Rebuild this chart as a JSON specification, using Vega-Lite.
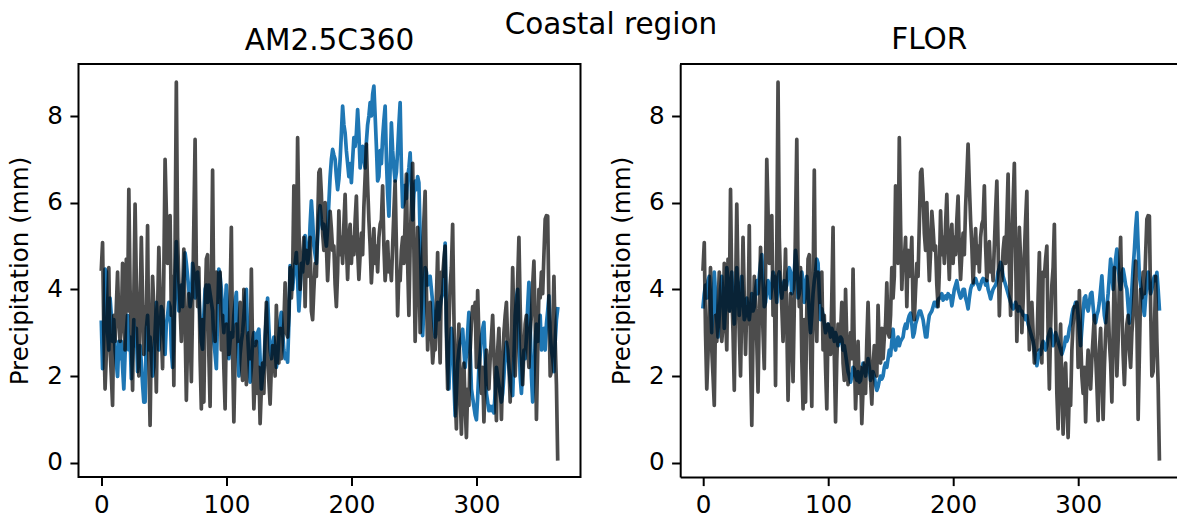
{
"$schema": "https://vega.github.io/schema/vega-lite/v6.json",
"background": "white",
"padding": {"left": 6.5, "top": 10, "right": 0, "bottom": 0},
"title": {"text": "Coastal region", "fontSize": 29.5, "anchor": "middle", "dx": 18.5, "dy": 38.8, "offset": 0, "baseline": "alphabetic"},
"datasets": {"daily": [
{"day":0,"obs":4.47,"am":3.24,"flor":3.6},{"day":1,"obs":5.08,"am":2.17,"flor":3.9},{"day":2,"obs":3.0,"am":3.0,"flor":4.1},{"day":3,"obs":1.7,"am":4.47,"flor":3.8},{"day":4,"obs":2.5,"am":4.4,"flor":4.2},{"day":5,"obs":3.6,"am":3.0,"flor":4.3},{"day":6,"obs":4.5,"am":2.6,"flor":3.7},{"day":7,"obs":2.6,"am":3.8,"flor":3.0},{"day":8,"obs":2.0,"am":3.4,"flor":3.6},{"day":9,"obs":1.32,"am":2.8,"flor":4.4},
{"day":10,"obs":3.4,"am":3.3,"flor":3.9},{"day":11,"obs":2.8,"am":2.6,"flor":3.3},{"day":12,"obs":3.6,"am":2.3,"flor":2.9},{"day":13,"obs":4.4,"am":1.99,"flor":3.4},{"day":14,"obs":3.3,"am":2.8,"flor":4.0},{"day":15,"obs":2.8,"am":2.4,"flor":4.3},{"day":16,"obs":3.2,"am":2.8,"flor":3.8},{"day":17,"obs":4.6,"am":2.2,"flor":3.1},{"day":18,"obs":3.4,"am":1.7,"flor":3.6},{"day":19,"obs":2.6,"am":2.5,"flor":4.5},
{"day":20,"obs":4.7,"am":3.0,"flor":4.2},{"day":21,"obs":3.5,"am":3.4,"flor":3.5},{"day":22,"obs":6.31,"am":2.6,"flor":3.9},{"day":23,"obs":4.0,"am":2.9,"flor":4.4},{"day":24,"obs":3.0,"am":1.94,"flor":3.6},{"day":25,"obs":1.67,"am":2.5,"flor":3.2},{"day":26,"obs":3.8,"am":3.3,"flor":3.8},{"day":27,"obs":5.97,"am":2.7,"flor":4.5},{"day":28,"obs":4.2,"am":3.1,"flor":4.0},{"day":29,"obs":3.0,"am":2.1,"flor":3.4},
{"day":30,"obs":2.0,"am":2.5,"flor":3.9},{"day":31,"obs":3.6,"am":2.7,"flor":4.3},{"day":32,"obs":5.2,"am":2.3,"flor":3.8},{"day":33,"obs":3.8,"am":1.8,"flor":3.3},{"day":34,"obs":2.5,"am":1.4,"flor":3.4},{"day":35,"obs":3.6,"am":1.4,"flor":3.8},{"day":36,"obs":3.2,"am":3.09,"flor":3.5},{"day":37,"obs":5.47,"am":3.4,"flor":3.3},{"day":38,"obs":2.4,"am":2.6,"flor":3.6},{"day":39,"obs":0.86,"am":2.9,"flor":3.9},
{"day":40,"obs":2.9,"am":2.5,"flor":3.5},{"day":41,"obs":4.3,"am":2.0,"flor":3.6},{"day":42,"obs":3.6,"am":2.2,"flor":4.0},{"day":43,"obs":2.8,"am":3.0,"flor":4.2},{"day":44,"obs":1.63,"am":3.7,"flor":3.9},{"day":45,"obs":3.5,"am":3.2,"flor":4.3},{"day":46,"obs":4.97,"am":2.6,"flor":4.6},{"day":47,"obs":3.9,"am":3.0,"flor":4.8},{"day":48,"obs":3.0,"am":3.6,"flor":4.2},{"day":49,"obs":2.17,"am":3.5,"flor":3.6},
{"day":50,"obs":4.4,"am":2.9,"flor":3.7},{"day":51,"obs":7.0,"am":2.5,"flor":4.0},{"day":52,"obs":5.8,"am":3.2,"flor":4.2},{"day":53,"obs":4.6,"am":3.4,"flor":4.0},{"day":54,"obs":5.0,"am":3.7,"flor":3.8},{"day":55,"obs":5.7,"am":3.6,"flor":4.1},{"day":56,"obs":3.4,"am":2.6,"flor":4.4},{"day":57,"obs":4.3,"am":2.2,"flor":4.3},{"day":58,"obs":1.78,"am":3.0,"flor":4.0},{"day":59,"obs":5.0,"am":4.2,"flor":3.7},
{"day":60,"obs":8.78,"am":5.1,"flor":4.3},{"day":61,"obs":5.2,"am":4.2,"flor":4.4},{"day":62,"obs":4.2,"am":3.5,"flor":4.0},{"day":63,"obs":3.6,"am":3.8,"flor":3.8},{"day":64,"obs":2.8,"am":4.1,"flor":4.1},{"day":65,"obs":3.9,"am":3.6,"flor":4.2},{"day":66,"obs":4.93,"am":4.3,"flor":4.0},{"day":67,"obs":3.2,"am":4.84,"flor":4.1},{"day":68,"obs":1.44,"am":4.6,"flor":4.4},{"day":69,"obs":2.8,"am":4.3,"flor":4.5},
{"day":70,"obs":3.9,"am":4.0,"flor":4.4},{"day":71,"obs":3.1,"am":3.6,"flor":3.9},{"day":72,"obs":1.87,"am":3.8,"flor":4.0},{"day":73,"obs":3.6,"am":4.6,"flor":4.4},{"day":74,"obs":5.5,"am":4.4,"flor":4.9},{"day":75,"obs":7.46,"am":3.8,"flor":4.6},{"day":76,"obs":4.5,"am":4.2,"flor":3.8},{"day":77,"obs":3.6,"am":4.4,"flor":3.9},{"day":78,"obs":4.5,"am":3.9,"flor":4.2},{"day":79,"obs":2.4,"am":3.3,"flor":4.4},
{"day":80,"obs":1.24,"am":2.8,"flor":4.2},{"day":81,"obs":3.3,"am":2.62,"flor":3.7},{"day":82,"obs":1.4,"am":3.4,"flor":3.9},{"day":83,"obs":3.5,"am":4.0,"flor":4.3},{"day":84,"obs":4.7,"am":4.1,"flor":4.0},{"day":85,"obs":4.8,"am":3.7,"flor":3.4},{"day":86,"obs":2.5,"am":4.1,"flor":3.0},{"day":87,"obs":1.3,"am":3.9,"flor":3.4},{"day":88,"obs":4.0,"am":3.7,"flor":3.9},{"day":89,"obs":6.75,"am":3.5,"flor":4.2},
{"day":90,"obs":3.5,"am":2.8,"flor":4.4},{"day":91,"obs":2.8,"am":2.5,"flor":4.7},{"day":92,"obs":4.4,"am":2.17,"flor":4.6},{"day":93,"obs":3.7,"am":3.4,"flor":3.9},{"day":94,"obs":4.1,"am":4.47,"flor":3.3},{"day":95,"obs":4.4,"am":4.3,"flor":3.55},{"day":96,"obs":2.6,"am":4.0,"flor":3.4},{"day":97,"obs":3.4,"am":3.4,"flor":3.2},{"day":98,"obs":2.2,"am":3.0,"flor":3.0},{"day":99,"obs":1.24,"am":3.6,"flor":3.1},
{"day":100,"obs":3.2,"am":4.1,"flor":3.2},{"day":101,"obs":2.9,"am":3.5,"flor":3.1},{"day":102,"obs":2.5,"am":2.4,"flor":2.9},{"day":103,"obs":3.8,"am":2.8,"flor":3.1},{"day":104,"obs":5.43,"am":3.0,"flor":3.0},{"day":105,"obs":2.5,"am":2.9,"flor":2.8},{"day":106,"obs":0.94,"am":3.4,"flor":3.0},{"day":107,"obs":2.4,"am":3.7,"flor":2.9},{"day":108,"obs":3.2,"am":3.93,"flor":2.7},{"day":109,"obs":2.8,"am":3.0,"flor":2.8},
{"day":110,"obs":3.0,"am":2.0,"flor":2.9},{"day":111,"obs":3.7,"am":2.5,"flor":2.85},{"day":112,"obs":2.3,"am":2.8,"flor":2.6},{"day":113,"obs":1.9,"am":3.0,"flor":2.7},{"day":114,"obs":4.0,"am":3.4,"flor":2.5},{"day":115,"obs":2.8,"am":3.8,"flor":2.3},{"day":116,"obs":1.8,"am":4.0,"flor":2.1},{"day":117,"obs":2.5,"am":3.0,"flor":2.0},{"day":118,"obs":3.0,"am":2.4,"flor":1.86},{"day":119,"obs":2.4,"am":1.86,"flor":2.0},
{"day":120,"obs":4.47,"am":2.2,"flor":2.2},{"day":121,"obs":2.6,"am":2.8,"flor":2.16},{"day":122,"obs":1.24,"am":3.0,"flor":2.0},{"day":123,"obs":2.0,"am":2.7,"flor":1.9},{"day":124,"obs":2.8,"am":2.9,"flor":2.1},{"day":125,"obs":1.6,"am":3.0,"flor":1.86},{"day":126,"obs":2.2,"am":3.08,"flor":1.9},{"day":127,"obs":0.9,"am":2.4,"flor":2.1},{"day":128,"obs":1.7,"am":1.7,"flor":2.3},{"day":129,"obs":2.3,"am":2.0,"flor":2.2},
{"day":130,"obs":1.6,"am":2.2,"flor":2.0},{"day":131,"obs":2.8,"am":2.9,"flor":2.2},{"day":132,"obs":3.7,"am":3.4,"flor":2.4},{"day":133,"obs":2.6,"am":3.8,"flor":2.2},{"day":134,"obs":1.9,"am":3.1,"flor":1.9},{"day":135,"obs":1.35,"am":2.6,"flor":2.0},{"day":136,"obs":2.2,"am":2.4,"flor":2.1},{"day":137,"obs":2.7,"am":2.7,"flor":2.0},{"day":138,"obs":2.5,"am":2.9,"flor":1.8},{"day":139,"obs":2.0,"am":2.6,"flor":1.67},
{"day":140,"obs":3.63,"am":2.2,"flor":1.75},{"day":141,"obs":2.6,"am":2.4,"flor":1.9},{"day":142,"obs":2.3,"am":2.9,"flor":2.0},{"day":143,"obs":3.1,"am":3.3,"flor":1.93},{"day":144,"obs":2.4,"am":3.47,"flor":2.0},{"day":145,"obs":2.9,"am":3.0,"flor":2.2},{"day":146,"obs":3.2,"am":2.6,"flor":2.3},{"day":147,"obs":4.15,"am":2.4,"flor":2.2},{"day":148,"obs":3.0,"am":2.5,"flor":2.4},{"day":149,"obs":2.9,"am":2.32,"flor":2.6},
{"day":150,"obs":3.4,"am":3.2,"flor":2.47},{"day":151,"obs":4.5,"am":4.55,"flor":2.8},{"day":152,"obs":3.8,"am":4.3,"flor":3.08},{"day":153,"obs":4.3,"am":4.0,"flor":2.7},{"day":154,"obs":6.39,"am":4.4,"flor":2.6},{"day":155,"obs":5.2,"am":4.6,"flor":2.8},{"day":156,"obs":4.6,"am":4.85,"flor":2.9},{"day":157,"obs":7.5,"am":4.2,"flor":2.7},{"day":158,"obs":5.5,"am":3.5,"flor":2.8},{"day":159,"obs":4.0,"am":4.0,"flor":2.85},
{"day":160,"obs":4.8,"am":4.6,"flor":2.9},{"day":161,"obs":4.7,"am":4.4,"flor":3.1},{"day":162,"obs":5.2,"am":4.8,"flor":3.2},{"day":163,"obs":3.6,"am":5.24,"flor":3.1},{"day":164,"obs":4.9,"am":4.9,"flor":3.3},{"day":165,"obs":4.3,"am":4.6,"flor":3.4},{"day":166,"obs":4.6,"am":4.8,"flor":3.45},{"day":167,"obs":5.2,"am":5.5,"flor":3.2},{"day":168,"obs":3.5,"am":6.04,"flor":2.9},{"day":169,"obs":3.3,"am":5.6,"flor":3.0},
{"day":170,"obs":4.0,"am":5.0,"flor":3.2},{"day":171,"obs":4.6,"am":4.8,"flor":3.3},{"day":172,"obs":4.3,"am":4.6,"flor":3.4},{"day":173,"obs":5.5,"am":5.2,"flor":3.5},{"day":174,"obs":6.7,"am":5.7,"flor":3.5},{"day":175,"obs":6.77,"am":5.93,"flor":3.4},{"day":176,"obs":6.2,"am":5.6,"flor":3.3},{"day":177,"obs":5.3,"am":5.4,"flor":3.1},{"day":178,"obs":4.9,"am":5.5,"flor":2.9},{"day":179,"obs":6.0,"am":5.2,"flor":2.9},
{"day":180,"obs":5.0,"am":5.0,"flor":3.2},{"day":181,"obs":4.2,"am":5.4,"flor":3.4},{"day":182,"obs":4.85,"am":6.0,"flor":3.45},{"day":183,"obs":5.8,"am":6.6,"flor":3.5},{"day":184,"obs":5.4,"am":7.0,"flor":3.6},{"day":185,"obs":4.9,"am":7.23,"flor":3.7},{"day":186,"obs":5.0,"am":7.1,"flor":3.7},{"day":187,"obs":4.1,"am":7.0,"flor":3.6},{"day":188,"obs":3.6,"am":6.6,"flor":3.75},{"day":189,"obs":4.4,"am":6.3,"flor":3.8},
{"day":190,"obs":5.81,"am":6.54,"flor":3.8},{"day":191,"obs":4.8,"am":7.0,"flor":3.9},{"day":192,"obs":5.2,"am":7.6,"flor":3.75},{"day":193,"obs":4.6,"am":8.23,"flor":3.8},{"day":194,"obs":5.5,"am":7.8,"flor":3.85},{"day":195,"obs":6.19,"am":7.61,"flor":3.78},{"day":196,"obs":5.0,"am":7.2,"flor":3.9},{"day":197,"obs":4.23,"am":6.9,"flor":3.85},{"day":198,"obs":5.2,"am":6.6,"flor":3.85},{"day":199,"obs":5.5,"am":6.9,"flor":3.62},
{"day":200,"obs":4.6,"am":6.46,"flor":3.8},{"day":201,"obs":5.2,"am":7.0,"flor":4.0},{"day":202,"obs":4.8,"am":7.5,"flor":4.1},{"day":203,"obs":5.6,"am":7.3,"flor":4.2},{"day":204,"obs":6.15,"am":7.6,"flor":4.0},{"day":205,"obs":4.9,"am":8.15,"flor":3.9},{"day":206,"obs":4.23,"am":7.6,"flor":3.8},{"day":207,"obs":4.8,"am":6.8,"flor":3.85},{"day":208,"obs":5.3,"am":7.1,"flor":4.0},{"day":209,"obs":4.8,"am":7.3,"flor":4.0},
{"day":210,"obs":5.9,"am":7.0,"flor":3.8},{"day":211,"obs":6.6,"am":6.8,"flor":3.7},{"day":212,"obs":7.35,"am":7.4,"flor":3.55},{"day":213,"obs":6.4,"am":7.8,"flor":3.8},{"day":214,"obs":5.6,"am":8.0,"flor":4.0},{"day":215,"obs":5.0,"am":8.31,"flor":4.1},{"day":216,"obs":4.15,"am":8.0,"flor":4.1},{"day":217,"obs":4.7,"am":8.5,"flor":4.2},{"day":218,"obs":5.4,"am":8.69,"flor":4.25},{"day":219,"obs":4.6,"am":8.0,"flor":4.15},
{"day":220,"obs":5.0,"am":7.3,"flor":4.1},{"day":221,"obs":4.4,"am":6.5,"flor":4.0},{"day":222,"obs":5.2,"am":6.6,"flor":4.1},{"day":223,"obs":5.5,"am":7.2,"flor":4.2},{"day":224,"obs":5.6,"am":6.9,"flor":4.25},{"day":225,"obs":6.39,"am":7.5,"flor":4.23},{"day":226,"obs":5.0,"am":7.9,"flor":4.1},{"day":227,"obs":4.2,"am":8.23,"flor":4.2},{"day":228,"obs":4.6,"am":7.0,"flor":4.0},{"day":229,"obs":5.1,"am":6.2,"flor":3.9},
{"day":230,"obs":4.4,"am":5.69,"flor":3.78},{"day":231,"obs":4.6,"am":6.8,"flor":3.9},{"day":232,"obs":4.2,"am":7.84,"flor":4.0},{"day":233,"obs":5.0,"am":7.2,"flor":4.05},{"day":234,"obs":5.8,"am":6.8,"flor":4.1},{"day":235,"obs":6.5,"am":6.5,"flor":4.2},{"day":236,"obs":5.0,"am":6.7,"flor":4.4},{"day":237,"obs":3.39,"am":7.2,"flor":4.5},{"day":238,"obs":4.4,"am":7.8,"flor":4.62},{"day":239,"obs":4.2,"am":8.31,"flor":4.5},
{"day":240,"obs":4.9,"am":6.8,"flor":4.3},{"day":241,"obs":5.2,"am":5.9,"flor":4.2},{"day":242,"obs":4.6,"am":6.0,"flor":4.1},{"day":243,"obs":5.6,"am":6.4,"flor":4.0},{"day":244,"obs":6.66,"am":6.1,"flor":3.9},{"day":245,"obs":4.6,"am":6.6,"flor":3.8},{"day":246,"obs":3.4,"am":6.8,"flor":3.7},{"day":247,"obs":5.0,"am":7.15,"flor":3.6},{"day":248,"obs":6.0,"am":6.3,"flor":3.55},{"day":249,"obs":6.91,"am":5.6,"flor":3.6},
{"day":250,"obs":4.9,"am":6.2,"flor":3.7},{"day":251,"obs":2.8,"am":6.5,"flor":3.6},{"day":252,"obs":4.0,"am":6.3,"flor":3.5},{"day":253,"obs":5.43,"am":6.6,"flor":3.6},{"day":254,"obs":4.7,"am":6.46,"flor":3.5},{"day":255,"obs":3.0,"am":5.2,"flor":3.5},{"day":256,"obs":3.7,"am":4.0,"flor":3.4},{"day":257,"obs":4.8,"am":2.93,"flor":3.4},{"day":258,"obs":5.6,"am":3.6,"flor":3.3},{"day":259,"obs":6.26,"am":4.5,"flor":3.39},
{"day":260,"obs":4.0,"am":4.4,"flor":3.2},{"day":261,"obs":2.6,"am":4.1,"flor":3.1},{"day":262,"obs":3.4,"am":4.2,"flor":3.0},{"day":263,"obs":3.7,"am":4.3,"flor":2.9},{"day":264,"obs":3.0,"am":4.0,"flor":2.8},{"day":265,"obs":2.3,"am":3.7,"flor":2.63},{"day":266,"obs":2.7,"am":3.2,"flor":2.4},{"day":267,"obs":2.6,"am":2.9,"flor":2.24},{"day":268,"obs":3.8,"am":3.4,"flor":2.4},{"day":269,"obs":4.85,"am":3.7,"flor":2.6},
{"day":270,"obs":3.2,"am":3.3,"flor":2.5},{"day":271,"obs":2.3,"am":3.6,"flor":2.7},{"day":272,"obs":4.4,"am":3.8,"flor":2.8},{"day":273,"obs":4.3,"am":3.9,"flor":2.7},{"day":274,"obs":4.7,"am":4.4,"flor":2.6},{"day":275,"obs":5.0,"am":5.07,"flor":2.7},{"day":276,"obs":3.0,"am":3.2,"flor":2.9},{"day":277,"obs":1.7,"am":2.2,"flor":3.0},{"day":278,"obs":3.1,"am":1.7,"flor":3.08},{"day":279,"obs":4.1,"am":2.6,"flor":2.9},
{"day":280,"obs":4.5,"am":3.1,"flor":2.7},{"day":281,"obs":5.5,"am":2.8,"flor":2.8},{"day":282,"obs":3.4,"am":1.9,"flor":3.0},{"day":283,"obs":1.6,"am":1.08,"flor":2.9},{"day":284,"obs":0.78,"am":1.6,"flor":2.8},{"day":285,"obs":2.5,"am":2.3,"flor":2.7},{"day":286,"obs":3.2,"am":2.6,"flor":2.6},{"day":287,"obs":1.6,"am":2.8,"flor":2.5},{"day":288,"obs":0.66,"am":2.9,"flor":2.6},{"day":289,"obs":2.0,"am":3.08,"flor":2.7},
{"day":290,"obs":2.3,"am":2.6,"flor":2.9},{"day":291,"obs":1.3,"am":2.2,"flor":2.8},{"day":292,"obs":0.58,"am":2.5,"flor":2.9},{"day":293,"obs":1.7,"am":3.0,"flor":3.1},{"day":294,"obs":1.32,"am":3.47,"flor":3.2},{"day":295,"obs":2.6,"am":2.6,"flor":3.4},{"day":296,"obs":3.2,"am":1.7,"flor":3.55},{"day":297,"obs":3.6,"am":1.5,"flor":3.6},{"day":298,"obs":3.4,"am":1.3,"flor":3.7},{"day":299,"obs":3.7,"am":1.1,"flor":3.7},
{"day":300,"obs":2.2,"am":0.99,"flor":3.4},{"day":301,"obs":3.97,"am":1.5,"flor":3.0},{"day":302,"obs":2.9,"am":2.2,"flor":2.7},{"day":303,"obs":2.0,"am":2.5,"flor":3.1},{"day":304,"obs":1.6,"am":2.9,"flor":3.5},{"day":305,"obs":2.2,"am":3.1,"flor":3.8},{"day":306,"obs":0.94,"am":3.24,"flor":3.85},{"day":307,"obs":2.0,"am":2.4,"flor":3.6},{"day":308,"obs":2.6,"am":1.6,"flor":3.5},{"day":309,"obs":2.1,"am":1.4,"flor":3.7},
{"day":310,"obs":1.7,"am":1.2,"flor":3.9},{"day":311,"obs":2.4,"am":1.3,"flor":3.93},{"day":312,"obs":2.9,"am":1.2,"flor":3.6},{"day":313,"obs":3.4,"am":1.3,"flor":3.3},{"day":314,"obs":2.5,"am":1.15,"flor":3.23},{"day":315,"obs":1.8,"am":1.6,"flor":3.4},{"day":316,"obs":0.97,"am":2.2,"flor":3.5},{"day":317,"obs":2.6,"am":2.0,"flor":3.7},{"day":318,"obs":3.1,"am":1.8,"flor":4.0},{"day":319,"obs":2.0,"am":1.6,"flor":4.31},
{"day":320,"obs":1.0,"am":1.4,"flor":3.8},{"day":321,"obs":2.2,"am":1.6,"flor":3.4},{"day":322,"obs":3.0,"am":2.0,"flor":3.23},{"day":323,"obs":3.4,"am":2.5,"flor":3.6},{"day":324,"obs":3.7,"am":2.78,"flor":3.9},{"day":325,"obs":2.8,"am":2.6,"flor":4.3},{"day":326,"obs":2.3,"am":2.2,"flor":4.7},{"day":327,"obs":1.4,"am":1.9,"flor":4.4},{"day":328,"obs":3.0,"am":1.7,"flor":4.0},{"day":329,"obs":4.5,"am":1.55,"flor":4.4},
{"day":330,"obs":3.2,"am":2.4,"flor":4.7},{"day":331,"obs":2.0,"am":3.4,"flor":4.93},{"day":332,"obs":2.8,"am":3.8,"flor":4.6},{"day":333,"obs":4.2,"am":4.0,"flor":4.2},{"day":334,"obs":5.2,"am":3.0,"flor":4.0},{"day":335,"obs":3.6,"am":2.0,"flor":4.3},{"day":336,"obs":2.5,"am":1.6,"flor":4.47},{"day":337,"obs":1.8,"am":2.2,"flor":4.3},{"day":338,"obs":2.6,"am":2.6,"flor":4.1},{"day":339,"obs":3.2,"am":2.4,"flor":4.0},
{"day":340,"obs":3.4,"am":2.9,"flor":3.6},{"day":341,"obs":2.6,"am":3.6,"flor":3.22},{"day":342,"obs":2.2,"am":4.16,"flor":3.6},{"day":343,"obs":3.0,"am":3.2,"flor":4.0},{"day":344,"obs":3.4,"am":2.0,"flor":4.5},{"day":345,"obs":4.1,"am":1.4,"flor":4.9},{"day":346,"obs":4.65,"am":2.0,"flor":5.4},{"day":347,"obs":3.3,"am":2.8,"flor":5.77},{"day":348,"obs":1.0,"am":3.2,"flor":5.0},{"day":349,"obs":2.5,"am":2.8,"flor":4.3},
{"day":350,"obs":4.0,"am":2.9,"flor":4.1},{"day":351,"obs":3.8,"am":3.4,"flor":3.9},{"day":352,"obs":4.4,"am":2.6,"flor":3.6},{"day":353,"obs":3.9,"am":2.9,"flor":3.4},{"day":354,"obs":4.8,"am":3.1,"flor":3.8},{"day":355,"obs":5.62,"am":2.6,"flor":4.2},{"day":356,"obs":5.7,"am":3.2,"flor":4.4},{"day":357,"obs":5.69,"am":3.5,"flor":4.1},{"day":358,"obs":3.6,"am":3.85,"flor":3.9},{"day":359,"obs":2.0,"am":3.0,"flor":4.0},
{"day":360,"obs":2.1,"am":2.6,"flor":4.2},{"day":361,"obs":3.0,"am":2.4,"flor":4.3},{"day":362,"obs":4.3,"am":2.1,"flor":4.2},{"day":363,"obs":2.8,"am":2.8,"flor":4.39},{"day":364,"obs":1.8,"am":3.3,"flor":4.0},{"day":365,"obs":0.09,"am":3.55,"flor":3.55}
]},
"data": {"name": "daily"},
"bounds": "flush",
"spacing": 99.7,
"hconcat": [
{
"width": 502,
"height": 413,
"title": {"text": "AM2.5C360"},
"layer": [
{"mark": {"type": "line", "color": "#1f77b4", "strokeWidth": 3.7, "strokeJoin": "round", "strokeCap": "square"},
"encoding": {
"x": {"field": "day", "type": "quantitative", "scale": {"domain": [-18.25, 383.25], "nice": false, "zero": false}, "axis": {"values": [0, 100, 200, 300], "title": null, "domain": false}},
"y": {"field": "am", "type": "quantitative", "scale": {"domain": [-0.33, 9.2], "nice": false, "zero": false}, "axis": {"values": [0, 2, 4, 6, 8], "title": "Precipitation (mm)", "domain": false}}}},
{"mark": {"type": "line", "color": "black", "opacity": 0.7, "strokeWidth": 3.7, "strokeJoin": "round", "strokeCap": "square"},
"encoding": {
"x": {"field": "day", "type": "quantitative", "scale": {"domain": [-18.25, 383.25], "nice": false, "zero": false}, "axis": {"values": [0, 100, 200, 300], "title": null, "domain": false}},
"y": {"field": "obs", "type": "quantitative", "scale": {"domain": [-0.33, 9.2], "nice": false, "zero": false}, "axis": {"values": [0, 2, 4, 6, 8], "title": "Precipitation (mm)", "domain": false}}}}
]
},
{
"width": 497,
"height": 413,
"view": {"stroke": null},
"title": {"text": "FLOR", "dx": 0.5},
"layer": [
{"mark": {"type": "line", "color": "#1f77b4", "strokeWidth": 3.7, "strokeJoin": "round", "strokeCap": "square"},
"encoding": {
"x": {"field": "day", "type": "quantitative", "scale": {"domain": [-18.25, 379.25], "nice": false, "zero": false}, "axis": {"values": [0, 100, 200, 300], "title": null, "domain": true}},
"y": {"field": "flor", "type": "quantitative", "scale": {"domain": [-0.33, 9.2], "nice": false, "zero": false}, "axis": {"values": [0, 2, 4, 6, 8], "title": "Precipitation (mm)", "domain": true}}}},
{"mark": {"type": "line", "color": "black", "opacity": 0.7, "strokeWidth": 3.7, "strokeJoin": "round", "strokeCap": "square"},
"encoding": {
"x": {"field": "day", "type": "quantitative", "scale": {"domain": [-18.25, 379.25], "nice": false, "zero": false}, "axis": {"values": [0, 100, 200, 300], "title": null, "domain": true}},
"y": {"field": "obs", "type": "quantitative", "scale": {"domain": [-0.33, 9.2], "nice": false, "zero": false}, "axis": {"values": [0, 2, 4, 6, 8], "title": "Precipitation (mm)", "domain": true}}}},
{"mark": {"type": "rule", "color": "black", "strokeWidth": 2},
"encoding": {"y": {"datum": 9.2, "type": "quantitative"}}}
]
}
],
"config": {
"font": "DejaVu Sans",
"view": {"stroke": "black", "strokeWidth": 2},
"axis": {"grid": false, "labelFont": "DejaVu Sans", "labelFontSize": 24.6, "labelColor": "black", "tickColor": "black", "tickSize": 8.6, "tickWidth": 2, "labelPadding": 7.5, "domainColor": "black", "domainWidth": 2, "titleFont": "DejaVu Sans", "titleFontSize": 24.6, "titleFontWeight": "normal", "titleColor": "black", "titlePadding": 14},
"axisX": {"labelPadding": 8},
"title": {"font": "DejaVu Sans", "fontSize": 29.5, "fontWeight": "normal", "color": "black", "offset": 7.6, "baseline": "alphabetic"}
}
}
